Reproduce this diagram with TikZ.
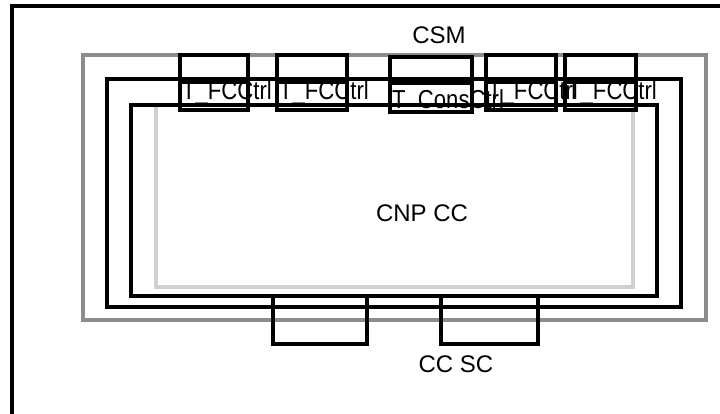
\documentclass[tikz,border=0pt]{standalone}
\usepackage{fontspec}
\setmainfont{Liberation Sans}
\newfontfamily\narrowsf[FakeStretch=0.85]{Liberation Sans}
\usepackage{tikz}
\usetikzlibrary{positioning}
\definecolor{csmgray}{RGB}{140,140,140}
\definecolor{cnpgray}{RGB}{208,208,208}
\tikzset{
  wall/.style={draw,line width=3.2pt},
  port/.style={draw,line width=3.2pt},
  title/.style={font=\fontsize{24}{29}\selectfont,inner sep=0pt},
  portlbl/.style={font=\narrowsf\fontsize{26}{31}\selectfont,inner sep=0pt,anchor=base west}
}
\begin{document}
\begin{tikzpicture}[x=1pt,y=-1pt]
\useasboundingbox (0,0) rectangle (720,414);
\clip (0,0) rectangle (720,414);
\draw[wall] (12,6) rectangle (740,430);
% nested blocks
\draw[wall,csmgray] (83,55) rectangle (706,320);
\draw[wall,cnpgray] (156,105) rectangle (633,287);
\draw[wall] (107,79) rectangle (681,307);
\draw[wall] (131,105) rectangle (657,296);
% ports on top
\foreach \n/\xa/\xb in {a/180/248,b/277/347,d/486/556,e/565/636} {
  \draw[port] (\xa,55) rectangle (\xb,110);
  \draw[port] (\xa,82) -- (\xb,82);
  \node[portlbl] (lbl\n) at (\xa+2,100) {T\_FCCtrl};
}
\draw[port] (390,57) rectangle (472,112);
\draw[port] (390,83) -- (472,83);
\node[portlbl] (lblc) at (392,108.5) {T\_ConsCtrl};
% ports below
\draw[port] (273,296) rectangle (367,344);
\draw[port] (441,296) rectangle (538,344);
\node[title] (csm) at (439,35) {CSM};
\node[title] (cnp) at (422,213) {CNP CC};
\node[title] (ccsc) at (456,364) {CC SC};
\end{tikzpicture}
\end{document}
